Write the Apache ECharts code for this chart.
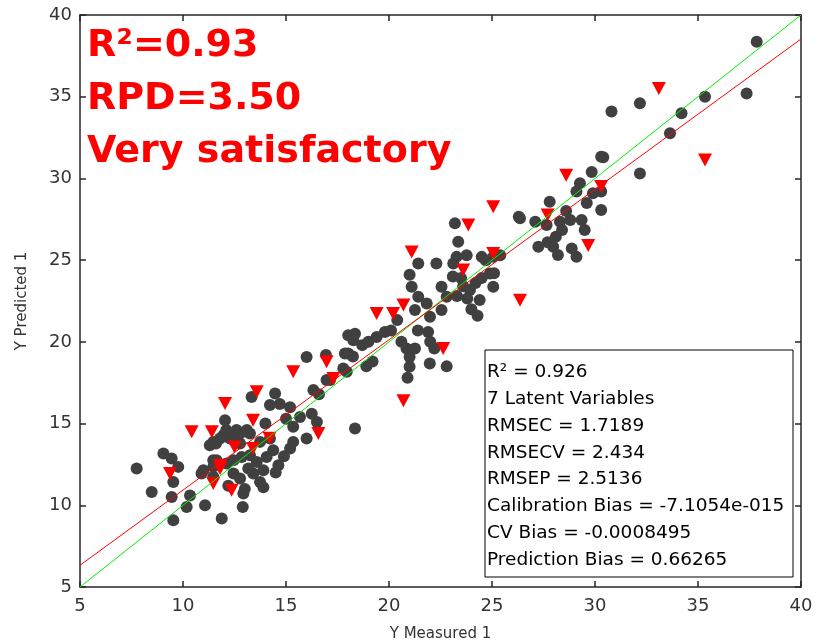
<!DOCTYPE html>
<html>
<head>
<meta charset="utf-8">
<script src="https://cdn.jsdelivr.net/npm/echarts@6/dist/echarts.min.js"></script>
<style>html,body{margin:0;padding:0;background:#fff}#c{width:817px;height:643px}</style>
</head>
<body>
<div id="c"></div>
<script>
// Axis ticks
var xTicks = [5, 10, 15, 20, 25, 30, 35, 40];
var yTicks = [5, 10, 15, 20, 25, 30, 35, 40];

// Calibration / cross-validation samples (gray circles): [measured, predicted]
var calibPoints = [
[7.75,12.25],[8.48,10.82],[9.05,13.17],[9.45,12.86],[9.77,12.35],[9.53,11.43],[9.45,10.51],[9.53,9.08],
[10.34,10.6],[10.18,9.9],[11.07,10.0],[11.88,9.19],[10.9,11.94],[11.63,12.76],[11.3,13.68],[12.04,15.2],
[11.96,14.29],[12.52,14.18],[11.47,13.88],[12.93,10.72],[12.9,9.9],[13.74,11.43],[13.17,12.25],[14.06,12.96],
[14.63,12.45],[14.38,13.37],[15.2,13.47],[15.35,13.88],[16.0,14.08],[16.5,15.1],[16.25,15.6],[15.68,15.4],
[15.35,14.8],[15.2,16.0],[14.7,16.2],[14.47,16.84],[14.22,16.13],[13.33,16.63],[16.33,17.05],[16.97,17.66],
[17.95,18.17],[18.35,14.7],[11.8,14.08],[12.28,14.08],[12.77,14.39],[13.25,14.39],[13.74,13.88],[14.22,14.08],
[11.47,12.76],[12.12,12.55],[12.45,12.76],[12.85,12.96],[13.25,13.06],[13.58,12.65],[13.9,12.15],[12.45,11.94],
[12.77,11.64],[13.41,11.94],[11.47,11.74],[10.99,12.15],[11.47,12.35],[12.6,14.6],[13.1,14.6],[12.1,14.6],
[11.6,13.78],[12.77,13.78],[14.5,12.0],[13.0,11.0],[12.2,11.2],[14.9,13.0],[14.0,15.0],[15.0,15.3],[13.9,11.1],
[16.0,19.08],[16.94,19.19],[18.02,19.29],[18.02,20.4],[17.78,18.37],[17.14,17.66],[18.35,20.5],[18.27,20.1],
[19.4,20.3],[17.86,19.29],[18.25,19.1],[18.7,19.8],[18.9,18.5],[19.2,18.8],[16.6,16.8],[19.0,20.0],[19.8,20.6],
[23.2,27.25],[23.36,26.13],[23.28,25.2],[23.77,25.3],[24.5,25.2],[23.12,24.8],[22.3,24.8],[21.42,24.8],
[21.0,24.1],[21.1,23.37],[21.42,22.76],[21.83,22.35],[22.55,23.37],[22.8,22.76],[21.26,21.95],[21.99,21.53],
[22.55,21.95],[21.9,20.6],[21.4,20.7],[20.4,21.33],[20.1,20.7],[20.85,19.6],[21.0,19.08],[21.26,19.6],
[21.98,18.68],[21.0,18.47],[20.9,17.8],[22.8,18.5],[23.93,23.17],[24.4,22.56],[25.06,23.37],[24.9,24.18],
[24.3,21.6],[23.8,22.66],[24.2,23.6],[23.5,23.9],[20.6,20.0],[22.2,19.6],[24.7,25.0],[25.06,25.2],[25.4,25.3],
[25.1,24.2],[23.1,24.0],[22.0,20.0],[23.6,23.4],[24.5,23.9],[24.0,22.0],[23.3,22.8],
[30.3,31.33],[29.84,30.4],[29.27,29.7],[29.1,29.2],[29.9,29.1],[30.3,28.07],[27.8,28.57],[26.36,27.56],
[27.1,27.35],[27.65,27.15],[28.3,27.35],[28.8,27.45],[29.35,27.45],[29.5,26.84],[28.4,26.84],[28.1,26.43],
[27.25,25.82],[27.97,25.82],[28.87,25.72],[28.2,25.31],[29.1,25.2],[26.3,27.65],[27.7,26.1],[37.85,38.37],
[37.36,35.2],[35.34,35.0],[34.2,33.99],[33.64,32.76],[32.18,34.6],[30.8,34.09],[30.4,31.3],[32.18,30.3],
[30.3,29.2],[28.6,28.0],[29.6,28.5]
];

// Prediction (test) samples (red triangles)
var predPoints = [
[35.34,31.13],[33.1,35.5],[28.6,30.2],[30.3,29.5],[29.67,25.9],[27.7,27.76],[25.06,28.27],[25.06,25.4],
[23.85,27.15],[23.6,24.4],[21.1,25.5],[20.7,22.25],[20.2,21.74],[19.4,21.74],[22.63,19.6],[26.36,22.55],
[20.7,16.4],[15.35,18.17],[13.58,16.94],[12.04,16.23],[13.4,15.2],[11.4,14.5],[10.42,14.5],[12.5,13.57],
[13.4,13.47],[14.2,14.1],[16.57,14.4],[17.3,17.76],[16.97,18.78],[11.8,12.45],[9.37,11.94],[11.47,11.33],
[12.36,10.92],[11.8,12.25]
];

// Reference lines
var identityLine = [[5,5],[40,40]];
var fitLine = [[5,6.33],[40,38.53]];

var headline = ['R\u00b2=0.93', 'RPD=3.50', 'Very satisfactory'];
var statsLines = ['R\u00b2 = 0.926','7 Latent Variables','RMSEC = 1.7189','RMSECV = 2.434','RMSEP = 2.5136',
  'Calibration Bias = -7.1054e-015','CV Bias = -0.0008495','Prediction Bias = 0.66265'];

var chart = echarts.init(document.getElementById('c'));
var axisCol = '#262626';
var FONT = 'DejaVu Sans';
function baseAxis(extra) {
  return Object.assign({
    type: 'value', min: 5, max: 40, interval: 5,
    axisLine: {show: true, onZero: false, lineStyle: {color: axisCol, width: 1.5}},
    axisTick: {show: true, inside: true, length: 6, lineStyle: {color: axisCol, width: 1.5}},
    splitLine: {show: false},
    axisLabel: {show: false}
  }, extra);
}
var graphics = [];
headline.forEach(function (t, i) {
  graphics.push({type: 'text', left: 87, top: 27 + i * 53, z: 100,
    style: {text: t, fill: '#ff0000', font: 'bold 38px "' + FONT + '"'}});
});
graphics.push({type: 'rect', shape: {x: 485, y: 350, width: 308, height: 227}, z: 100,
  style: {fill: '#ffffff', stroke: '#000000', lineWidth: 1}});
statsLines.forEach(function (t, i) {
  graphics.push({type: 'text', x: 487, y: 372 + i * 26.9, z: 101,
    style: {text: t, fill: '#000000', font: '18.5px "' + FONT + '"', verticalAlign: 'middle', align: 'left'}});
});

chart.setOption({
  animation: false,
  backgroundColor: '#ffffff',
  grid: {left: 80, right: 16, top: 15, bottom: 56, containLabel: false, outerBoundsMode: 'none'},
  xAxis: [
    baseAxis({position: 'bottom', name: 'Y Measured 1', nameLocation: 'middle', nameGap: 40,
      nameTextStyle: {fontFamily: FONT, fontSize: 15, color: '#333'},
      axisLabel: {show: true, margin: 10, fontFamily: FONT, fontSize: 18, color: '#333',
        formatter: function (v) { return xTicks.indexOf(v) >= 0 ? String(v) : ''; }}}),
    baseAxis({position: 'top'})
  ],
  yAxis: [
    baseAxis({position: 'left', name: 'Y Predicted 1', nameLocation: 'middle', nameGap: 50,
      nameTextStyle: {fontFamily: FONT, fontSize: 15, color: '#333'},
      axisLabel: {show: true, margin: 8, fontFamily: FONT, fontSize: 18, color: '#333',
        formatter: function (v) { return yTicks.indexOf(v) >= 0 ? String(v) : ''; }}}),
    baseAxis({position: 'right'})
  ],
  series: [
    {type: 'scatter', data: calibPoints, symbol: 'circle', symbolSize: 12,
      itemStyle: {color: '#404040', opacity: 1}, z: 2},
    {type: 'scatter', data: predPoints, symbol: 'triangle', symbolRotate: 180, symbolSize: [14, 13],
      itemStyle: {color: '#ff0000', opacity: 1}, z: 3},
    {type: 'line', data: identityLine, symbol: 'none', lineStyle: {color: '#00ee00', width: 1}, z: 4},
    {type: 'line', data: fitLine, symbol: 'none', lineStyle: {color: '#ff0000', width: 1}, z: 5}
  ],
  graphic: graphics
});
</script>
</body>
</html>
